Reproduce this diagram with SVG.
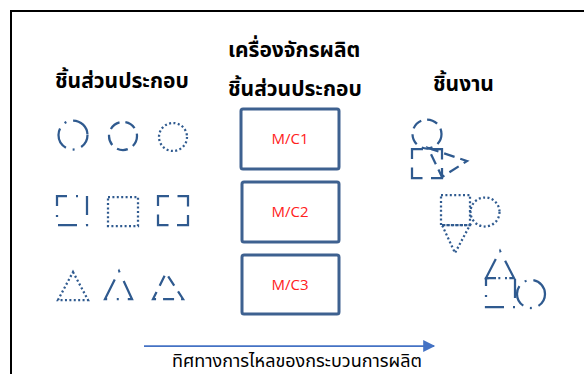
<svg xmlns="http://www.w3.org/2000/svg" width="584" height="374" viewBox="0 0 584 374">
<defs>
<style>
.s{fill:none;stroke:#2F5A8F;stroke-width:2.25}
.dd{stroke-dasharray:22 7 2 7}
.da{stroke-dasharray:11 6}
.dt{stroke-dasharray:2 2.4}
.sq{stroke-dasharray:19 9 2 9;stroke-dashoffset:9}
.box{fill:#fff;stroke:#3E6190;stroke-width:3}
.h{font-family:"Noto Sans Thai","Noto Sans","DejaVu Sans",sans-serif;font-weight:bold;font-size:21px;fill:#000}
.mc{font-family:"Segoe UI","Open Sans","Noto Sans",sans-serif;font-size:15px;fill:#FF2020;text-anchor:middle}
.lbl{font-family:"Noto Sans Thai","Noto Sans","DejaVu Sans",sans-serif;font-size:18px;fill:#000}
</style>
<marker id="ah" viewBox="0 0 10 10" refX="9" refY="5" markerWidth="15" markerHeight="12" markerUnits="userSpaceOnUse" orient="auto"><path d="M0,0L10,5L0,10z" fill="#4472C4"/></marker>
</defs>
<rect x="11" y="11" width="600" height="400" fill="#fff" stroke="#000" stroke-width="2"/>
<g id="headers">
<text class="h" x="55" y="88">ชิ้นส่วนประกอบ</text>
<text class="h" x="228" y="57">เครื่องจักรผลิต</text>
<text class="h" x="228" y="96">ชิ้นส่วนประกอบ</text>
<text class="h" x="433" y="91">ชิ้นงาน</text>
</g>
<g id="parts">
<circle class="s dd" cx="73" cy="135" r="14.5" style="stroke-dashoffset:8"/>
<circle class="s da" cx="123" cy="136" r="14"/>
<circle class="s dt" cx="173" cy="137" r="14"/>
<rect class="s sq" x="57" y="196" width="30" height="29"/>
<rect class="s dt" x="108" y="197" width="30" height="29"/>
<rect class="s da" x="158" y="196" width="30" height="29" style="stroke-dasharray:21 8.5;stroke-dashoffset:10"/>
<polygon class="s dt" points="73,272 88,300 58,300"/>
<polygon class="s dd" points="119,271 132,299 105,299" style="stroke-dasharray:24 9 2 9.6;stroke-dashoffset:33.5"/>
<polygon class="s da" points="166,273 183,299 153,299" style="stroke-dasharray:11 7;stroke-dashoffset:-4"/>
</g>
<g id="mc1"><rect class="box" x="241" y="109" width="98" height="60" rx="2"/><text class="mc" x="290" y="144">M/C1</text></g>
<g id="mc2"><rect class="box" x="242" y="182" width="97" height="60" rx="2"/><text class="mc" x="290" y="217">M/C2</text></g>
<g id="mc3"><rect class="box" x="242" y="255" width="97" height="59" rx="2"/><text class="mc" x="290" y="290">M/C3</text></g>
<g id="product1">
<circle class="s da" cx="427" cy="134" r="14.5"/>
<rect class="s da" x="412" y="149" width="30" height="29" style="stroke-dasharray:21 8.5;stroke-dashoffset:10"/>
<polygon class="s da" points="428,148 467,161 442,177"/>
</g>
<g id="product2">
<rect class="s dt" x="441" y="195" width="29" height="30"/>
<circle class="s dt" cx="485" cy="212" r="14.5"/>
<polygon class="s dt" points="442,225 470,225 455,253"/>
</g>
<g id="product3">
<polygon class="s dd" points="500,251 514,278 486,278" style="stroke-dasharray:24 9 2 9.6;stroke-dashoffset:33.5"/>
<rect class="s sq" x="486" y="278" width="29" height="29"/>
<circle class="s dd" cx="531" cy="294" r="14" style="stroke-dashoffset:8"/>
</g>
<g id="connectors">
<line x1="144" y1="346" x2="434" y2="346" stroke="#4472C4" stroke-width="1.75" marker-end="url(#ah)"/>
</g>
<text class="lbl" x="172" y="367">ทิศทางการไหลของกระบวนการผลิต</text>
</svg>
